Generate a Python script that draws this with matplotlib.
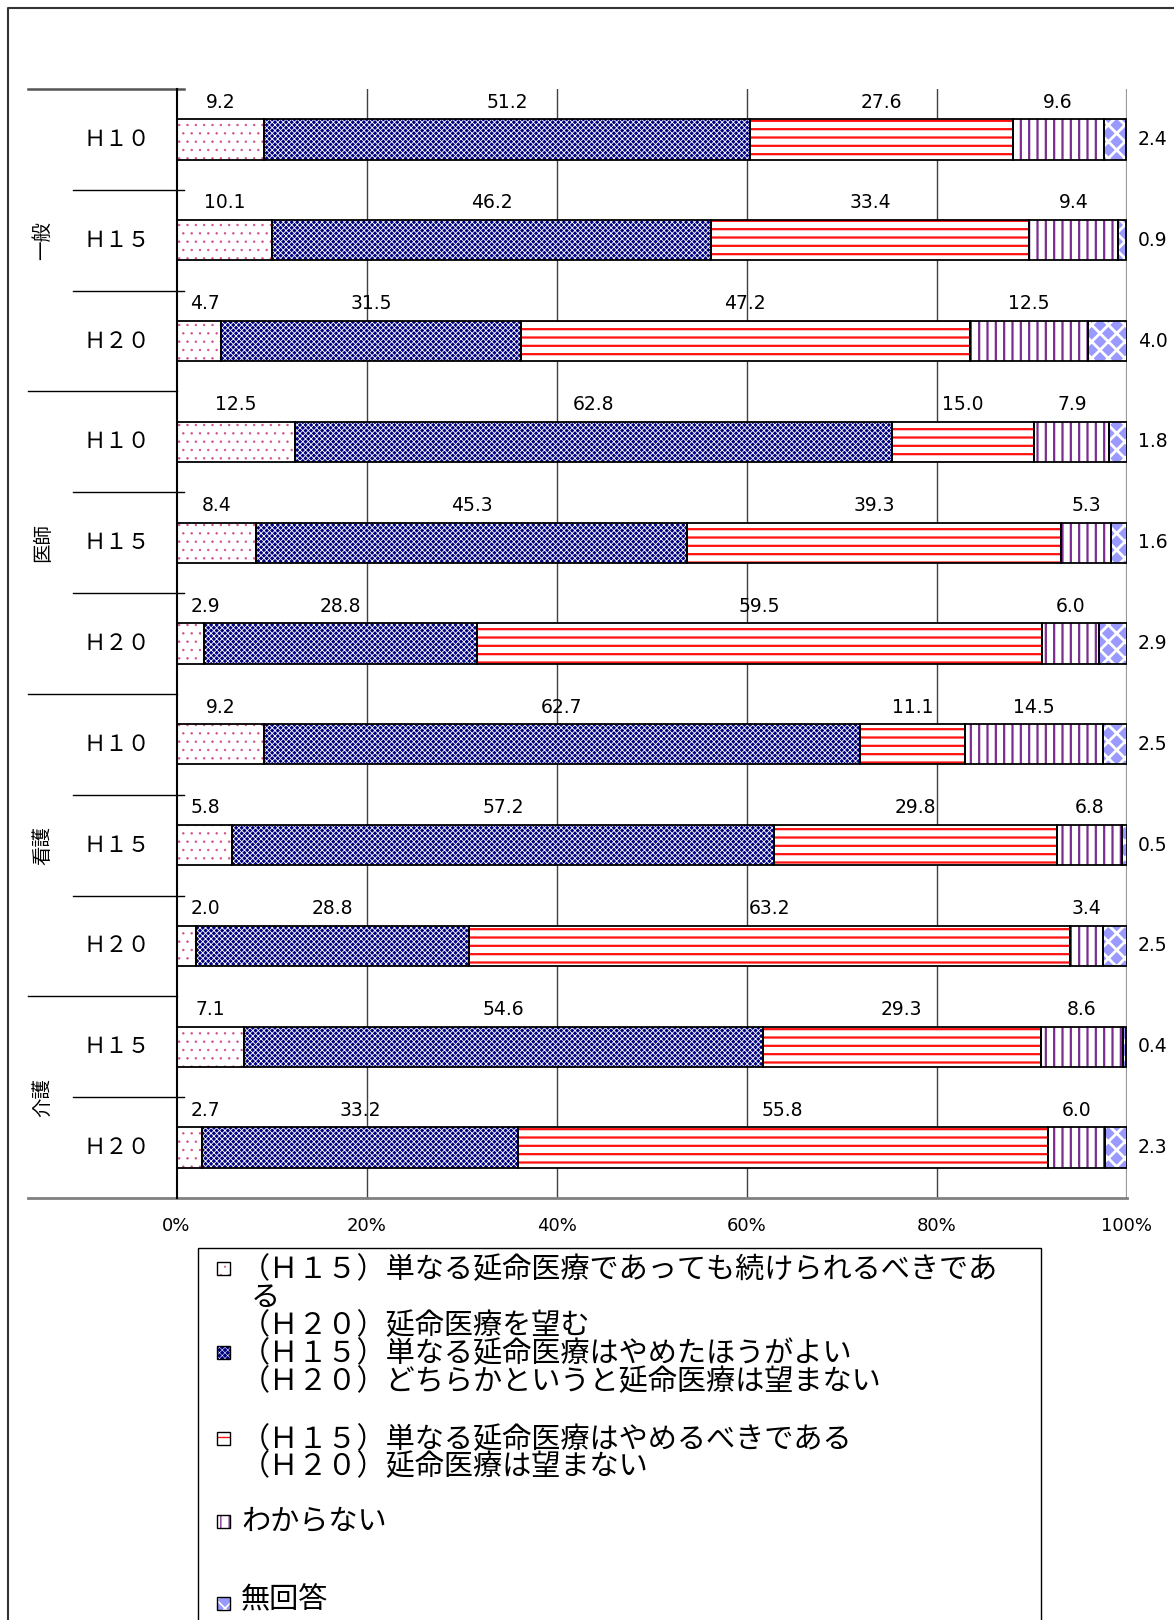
import matplotlib.pyplot as plt
import numpy as np
from matplotlib.patches import Rectangle

plt.rcParams['font.family'] = ['DejaVu Sans', 'Noto Sans CJK JP']

# 区分と年度
groups = ['一般', '医師', '看護', '介護']
group_rows = [[0, 1, 2], [3, 4, 5], [6, 7, 8], [9, 10]]
years = ['Ｈ１０', 'Ｈ１５', 'Ｈ２０',
         'Ｈ１０', 'Ｈ１５', 'Ｈ２０',
         'Ｈ１０', 'Ｈ１５', 'Ｈ２０',
         'Ｈ１５', 'Ｈ２０']

# 回答の割合 (%)
s_continue = [9.2, 10.1, 4.7, 12.5, 8.4, 2.9, 9.2, 5.8, 2.0, 7.1, 2.7]
s_rather_stop = [51.2, 46.2, 31.5, 62.8, 45.3, 28.8, 62.7, 57.2, 28.8, 54.6, 33.2]
s_stop = [27.6, 33.4, 47.2, 15.0, 39.3, 59.5, 11.1, 29.8, 63.2, 29.3, 55.8]
s_unknown = [9.6, 9.4, 12.5, 7.9, 5.3, 6.0, 14.5, 6.8, 3.4, 8.6, 6.0]
s_noanswer = [2.4, 0.9, 4.0, 1.8, 1.6, 2.9, 2.5, 0.5, 2.5, 0.4, 2.3]

series = [s_continue, s_rather_stop, s_stop, s_unknown, s_noanswer]

legend_lines = [
    '（Ｈ１５）単なる延命医療であっても続けられるべきであ',
    'る',
    '（Ｈ２０）延命医療を望む',
    '（Ｈ１５）単なる延命医療はやめたほうがよい',
    '（Ｈ２０）どちらかというと延命医療は望まない',
    '（Ｈ１５）単なる延命医療はやめるべきである',
    '（Ｈ２０）延命医療は望まない',
    'わからない',
    '無回答',
]

# 模様
fills = ['white', '#000080', 'white', 'white', '#9999ff']
hatches = ['..', 'xxxxxx', '--', '||', 'xx']
hatch_colors = ['#d0508a', 'white', '#ff1010', '#7b2c8e', 'white']
hatch_lws = [0.5, 0.6, 1.6, 1.6, 2.0]

W, H = 1174, 1620
fig = plt.figure(figsize=(W / 100, H / 100), dpi=100)
ax = fig.add_axes([176.5 / W, 1 - 1198 / H, 950 / W, 1109 / H])

data = np.array(series, dtype=float)
pct = data / data.sum(axis=0) * 100
y = np.arange(len(years))
bar_h = 0.4


def patterned(ax, y, w, left, k):
    with plt.rc_context({'hatch.linewidth': hatch_lws[k]}):
        bars = ax.barh(y, w, left=left, height=bar_h, color=fills[k],
                       edgecolor=hatch_colors[k], linewidth=0, hatch=hatches[k],
                       zorder=2)
    for b in bars:
        if hasattr(b, 'set_hatch_linewidth'):
            b.set_hatch_linewidth(hatch_lws[k])
    ax.barh(y, w, left=left, height=bar_h, fill=False, edgecolor='black',
            linewidth=1.3, zorder=3)


left = np.zeros(len(years))
for k in range(len(series)):
    patterned(ax, y, pct[k], left, k)
    for i in range(len(years)):
        val = data[k, i]
        if k < 4:
            cx = max(left[i] + pct[k, i] / 2, 3.0)
            ax.text(cx, y[i] - 0.37, f'{val:.1f}', ha='center', va='center',
                    fontsize=13.5, zorder=4)
        else:
            ax.text(101.2, y[i], f'{val:.1f}', ha='left', va='center',
                    fontsize=13.5, clip_on=False)
    left += pct[k]

ax.set_xlim(0, 100)
ax.set_ylim(len(years) - 0.5, -0.5)
ax.set_xticks([0, 20, 40, 60, 80, 100])
ax.set_xticklabels(['0%', '20%', '40%', '60%', '80%', '100%'], fontsize=13)
ax.tick_params(axis='x', length=0, pad=14)
ax.set_yticks([])
for v in [20, 40, 60, 80]:
    ax.axvline(v, color='#404040', lw=1, zorder=1)
ax.axvline(100, color='#9a9a9a', lw=1.6, zorder=1)
for s in ['top', 'right', 'bottom']:
    ax.spines[s].set_visible(False)
ax.spines['left'].set_linewidth(1.5)

# 左側の区切り線とラベル
x_far, x_near, x_in = -15.63, -10.9, 0.79
ax.plot([x_far, x_in], [-0.5, -0.5], color='#555555', lw=1.8, clip_on=False)
ax.plot([x_far, 100], [10.5, 10.5], color='#808080', lw=2, clip_on=False)
for yy in [2.5, 5.5, 8.5]:
    ax.plot([x_far, 0], [yy, yy], color='black', lw=1, clip_on=False)
for yy in [0.5, 1.5, 3.5, 4.5, 6.5, 7.5, 9.5]:
    ax.plot([x_near, x_in], [yy, yy], color='black', lw=1, clip_on=False)

for i, lab in enumerate(years):
    ax.text(-6.3, y[i], lab, ha='center', va='center', fontsize=16,
            family=['Noto Sans CJK JP', 'DejaVu Sans'], clip_on=False)
for g, rows in zip(groups, group_rows):
    ax.text(-14.05, np.mean(rows), g, ha='center', va='center', rotation=90,
            fontsize=14, family=['Noto Sans CJK JP', 'DejaVu Sans'], clip_on=False)

# 外枠と凡例 (ピクセル座標)
pa = fig.add_axes([0, 0, 1, 1], zorder=-1)
pa.set_xlim(0, W)
pa.set_ylim(H, 0)
pa.axis('off')
pa.plot([8.3, 8.3, W + 5], [H + 5, 8.3, 8.3], color='#333333', lw=1.5)

la = fig.add_axes([0, 0, 1, 1], zorder=5)
la.set_xlim(0, W)
la.set_ylim(H, 0)
la.axis('off')
la.patch.set_alpha(0)
la.add_patch(Rectangle((198, 1248), 843, 420, fill=False, edgecolor='black', lw=1))

line_y = [1270, 1298, 1326, 1354, 1382, 1440, 1467, 1522, 1600]
line_x = [241, 251, 241, 241, 241, 241, 241, 241, 241]
for tx, ty, t in zip(line_x, line_y, legend_lines):
    la.text(tx, ty, t, ha='left', va='center', fontsize=21,
            family=['Noto Sans CJK JP', 'DejaVu Sans'])

marker_y = [1268, 1352, 1438, 1521, 1603]
for k, my in enumerate(marker_y):
    with plt.rc_context({'hatch.linewidth': hatch_lws[k] * 0.6}):
        la.add_patch(Rectangle((217, my - 6.5), 13, 13, facecolor=fills[k],
                               edgecolor=hatch_colors[k], lw=0, hatch=hatches[k]))
    la.add_patch(Rectangle((217, my - 6.5), 13, 13, fill=False,
                           edgecolor='black', lw=1))

fig.savefig('out.png', dpi=100)
